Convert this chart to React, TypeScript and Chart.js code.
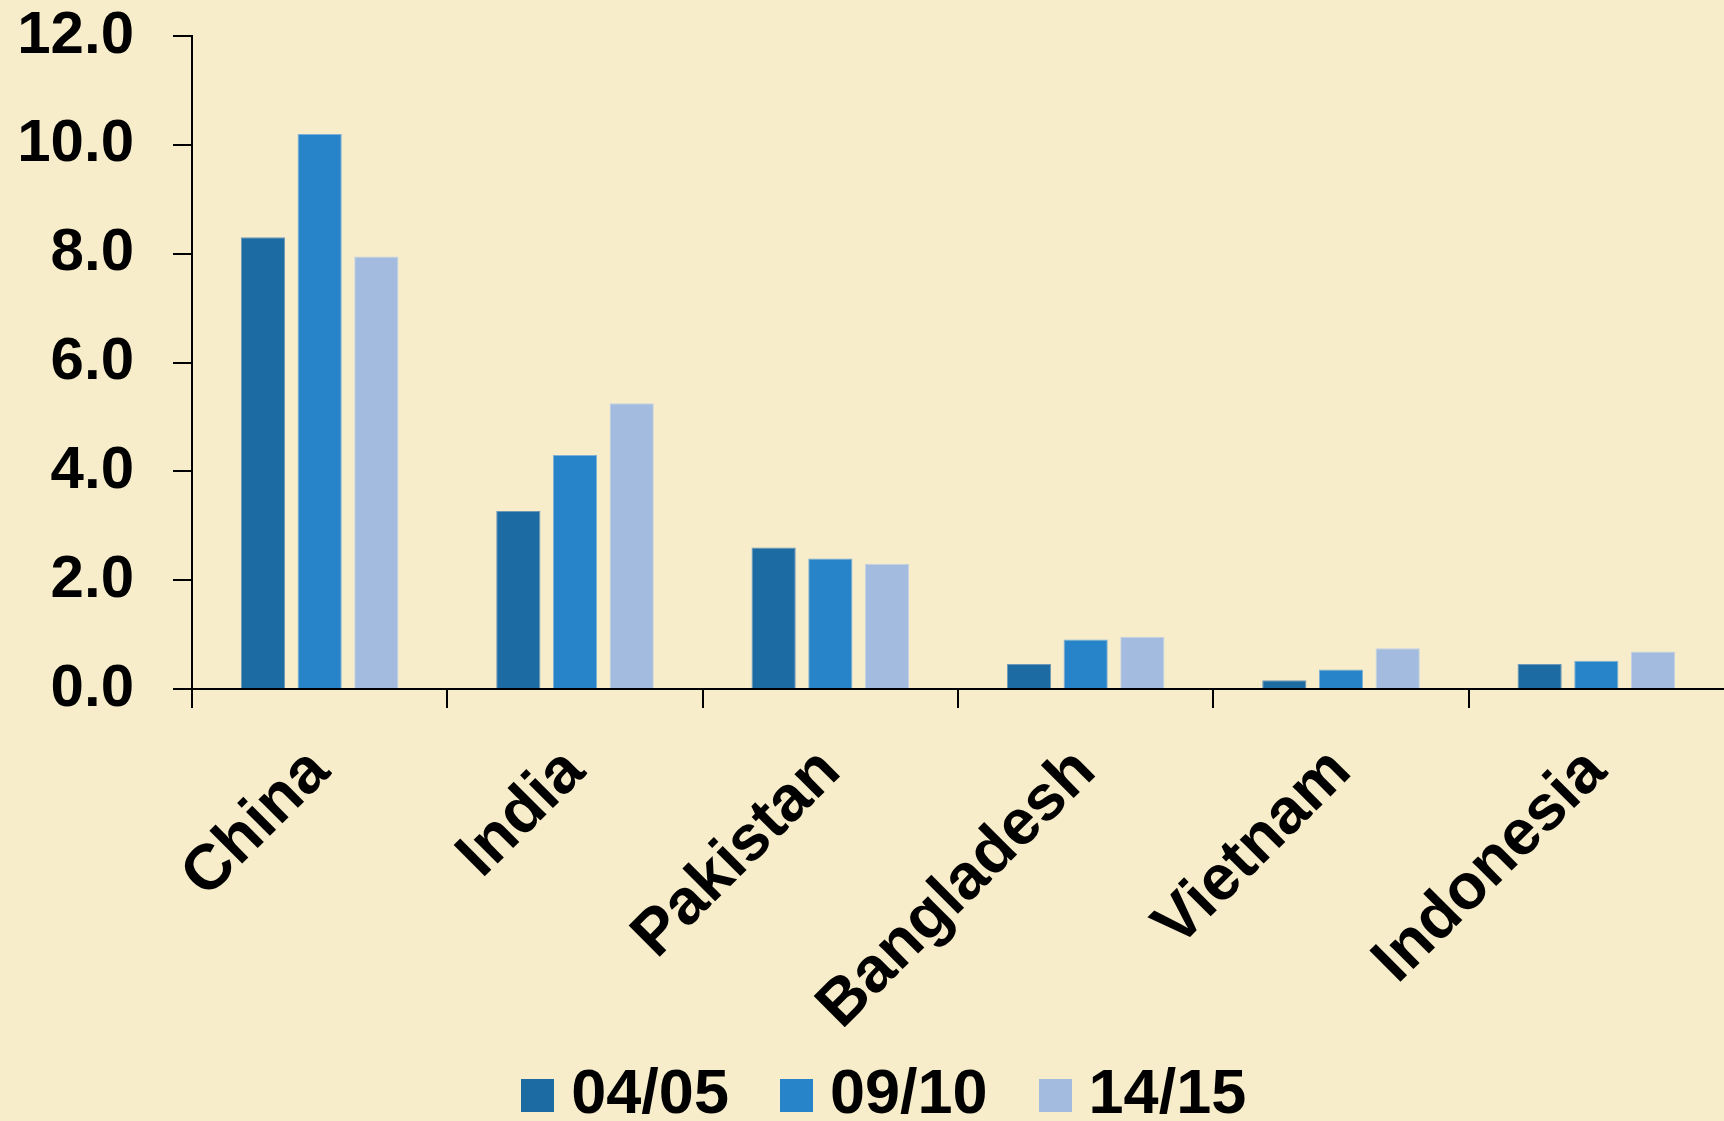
import React, { useEffect, useRef } from "react";
import { Chart, registerables } from "chart.js";

Chart.register(...registerables);

const categories = ["China", "India", "Pakistan", "Bangladesh", "Vietnam", "Indonesia"];
const seriesLabels = ["04/05", "09/10", "14/15"];
const values0405 = [8.3, 3.27, 2.6, 0.46, 0.16, 0.46];
const values0910 = [10.2, 4.3, 2.4, 0.91, 0.36, 0.52];
const values1415 = [7.95, 5.25, 2.3, 0.96, 0.75, 0.69];
const colors = ["#1C6BA3", "#2784C8", "#A3BBDE"];
const borders = ["#6E98B8", "#7FB0D8", "#C4D2E6"];

const FONT = "'Liberation Sans', Arial, sans-serif";
const LEGEND_BOX = 33;

const legendShift = {
  id: "legendShift",
  afterLayout(chart: any) {
    const lg = chart.legend;
    if (lg) {
      lg.left += 19;
      lg.right += 19;
      lg.top -= 28.5;
    }
  },
};

function makeBox(color: string) {
  const c = document.createElement("canvas");
  c.width = LEGEND_BOX;
  c.height = LEGEND_BOX;
  const g = c.getContext("2d");
  if (g) {
    g.fillStyle = color;
    g.fillRect(0, 0, LEGEND_BOX, LEGEND_BOX);
  }
  return c;
}

export default function App() {
  const ref = useRef<HTMLCanvasElement | null>(null);
  useEffect(() => {
    if (!ref.current) return;
    const data = [values0405, values0910, values1415];
    const boxes = colors.map(makeBox);
    const chart = new Chart(ref.current, {
      type: "bar",
      data: {
        labels: categories,
        datasets: seriesLabels.map((l, i) => ({
          label: l,
          data: data[i],
          backgroundColor: colors[i],
          borderColor: borders[i],
          borderWidth: 1,
          categoryPercentage: 0.666,
          barPercentage: 0.78,
        })),
      },
      plugins: [legendShift],
      options: {
        animation: false,
        responsive: true,
        maintainAspectRatio: false,
        layout: { padding: { left: 17, top: 0, right: -3, bottom: -16 } },
        plugins: {
          tooltip: { enabled: false },
          legend: {
            position: "bottom",
            maxHeight: 110,
            labels: {
              usePointStyle: true,
              pointStyleWidth: 4,
              boxWidth: LEGEND_BOX,
              boxHeight: LEGEND_BOX,
              padding: 65.5,
              color: "#000",
              font: { family: FONT, size: 63, weight: "bold" },
              generateLabels: (ch: any) =>
                (Chart.defaults.plugins.legend.labels as any)
                  .generateLabels(ch)
                  .map((it: any) => ({ ...it, pointStyle: boxes[it.datasetIndex] })),
            },
          },
        },
        scales: {
          x: {
            afterFit: (scale: any) => {
              scale.height = 338;
            },
            grid: {
              offset: true,
              drawOnChartArea: false,
              drawTicks: true,
              tickLength: 19,
              color: (c: any) => (c.type === "scale" ? "rgba(0,0,0,0)" : "#000"),
              lineWidth: 2,
            },
            border: { color: "#000", width: 2 },
            ticks: {
              color: "#000",
              maxRotation: 45,
              minRotation: 45,
              padding: 26,
              font: { family: FONT, size: 64, weight: "bold" },
            },
          },
          y: {
            min: 0,
            max: 12,
            afterFit: (scale: any) => {
              scale.width = 175;
              scale.paddingTop = 36;
            },
            grid: {
              drawOnChartArea: false,
              drawTicks: true,
              tickLength: 19,
              color: "#000",
              lineWidth: 2,
            },
            border: { color: "#000", width: 2 },
            ticks: {
              stepSize: 2,
              color: "#000",
              padding: 39,
              font: { family: FONT, size: 60, weight: "bold" },
              callback: (v: any) => Number(v).toFixed(1),
            },
          },
        },
      },
    });
    return () => chart.destroy();
  }, []);
  return (
    <div
      style={{
        position: "fixed",
        left: 0,
        top: 0,
        width: 1724,
        height: 1121,
        background: "#F7EDCA",
        overflow: "hidden",
      }}
    >
      <canvas ref={ref} />
    </div>
  );
}
